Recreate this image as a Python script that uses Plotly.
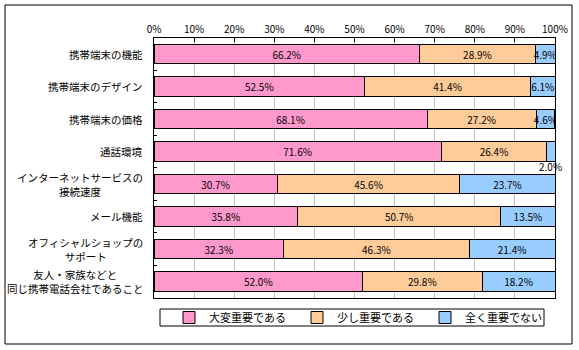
import plotly.graph_objects as go

categories = [
    "携帯端末の機能",
    "携帯端末のデザイン",
    "携帯端末の価格",
    "通話環境",
    "インターネットサービスの<br>接続速度",
    "メール機能",
    "オフィシャルショップの<br>サポート",
    "友人・家族などと<br>同じ携帯電話会社であること",
]
very_important = [66.2, 52.5, 68.1, 71.6, 30.7, 35.8, 32.3, 52.0]
somewhat_important = [28.9, 41.4, 27.2, 26.4, 45.6, 50.7, 46.3, 29.8]
not_important = [4.9, 6.1, 4.6, 2.0, 23.7, 13.5, 21.4, 18.2]
series_names = ["大変重要である", "少し重要である", "全く重要でない"]
series_colors = ["#FF99CC", "#FFCC99", "#99CCFF"]
tick_vals = list(range(0, 101, 10))
tick_text = [f"{v}%" for v in tick_vals]

FONT = "Noto Sans CJK JP"
SMALL = 3.0  # segments narrower than this get their label outside

fig = go.Figure()
all_series = [very_important, somewhat_important, not_important]
for name, vals, col in zip(series_names, all_series, series_colors):
    fig.add_trace(go.Bar(
        y=categories, x=vals, name=name, orientation="h",
        marker=dict(color=col, line=dict(color="black", width=1)),
        text=[f"{v:.1f}%" if v >= SMALL else "" for v in vals],
        textposition="inside", insidetextanchor="middle", textangle=0,
        textfont=dict(family=FONT, size=10, color="black"),
        hoverinfo="skip",
    ))

annotations = []
# outside labels for tiny segments
for i, cat in enumerate(categories):
    v = not_important[i]
    if v < SMALL:
        base = very_important[i] + somewhat_important[i]
        annotations.append(dict(
            x=base + v / 2, y=cat, xref="x", yref="y", text=f"{v:.1f}%",
            showarrow=False, yshift=-15, xanchor="center",
            font=dict(family=FONT, size=10, color="black")))
# category labels, centred lines
for cat in categories:
    annotations.append(dict(
        x=0, y=cat, xref="paper", yref="y", text=cat, showarrow=False,
        xanchor="right", xshift=-9, align="center",
        font=dict(family=FONT, size=10.5, color="black")))

W, H = 579, 350
L, R, T, B = 154, 24, 38, 52
pw, ph = W - L - R, H - T - B
def px(x): return (x - L) / pw
def py(y): return (H - B - y) / ph

shapes = [
    dict(type="rect", xref="paper", yref="paper", x0=px(5), x1=px(572),
         y0=py(344), y1=py(5), line=dict(color="black", width=1), layer="below"),
    dict(type="rect", xref="paper", yref="paper", x0=px(160), x1=px(544),
         y0=py(326), y1=py(309), line=dict(color="black", width=1)),
]

fig.update_layout(
    width=W, height=H, margin=dict(l=L, r=R, t=T, b=B),
    barmode="stack", bargap=0.4,
    paper_bgcolor="white", plot_bgcolor="white",
    font=dict(family=FONT, size=10, color="black"),
    showlegend=True,
    legend=dict(orientation="h", x=px(361), xanchor="center", y=py(317.5),
                yanchor="middle", bgcolor="rgba(0,0,0,0)", borderwidth=0,
                font=dict(family=FONT, size=11), entrywidth=83,
                entrywidthmode="pixels", itemclick=False, traceorder="normal"),
    uniformtext=dict(minsize=10, mode="show"),
    annotations=annotations, shapes=shapes,
)
fig.update_xaxes(range=[0, 100], side="top", tickvals=tick_vals, ticktext=tick_text,
                 showgrid=True, gridcolor="#C0C0C0", gridwidth=1,
                 ticks="inside", ticklen=4, tickcolor="black",
                 showline=True, linecolor="black", linewidth=1, mirror=True,
                 zeroline=False, tickfont=dict(family=FONT, size=10), fixedrange=True)
fig.update_yaxes(autorange="reversed", showticklabels=False, tickson="boundaries",
                 ticks="inside", ticklen=3, tickcolor="black",
                 showline=True, linecolor="black", linewidth=1, mirror=True,
                 showgrid=False, fixedrange=True)

fig.write_html("out.html")
